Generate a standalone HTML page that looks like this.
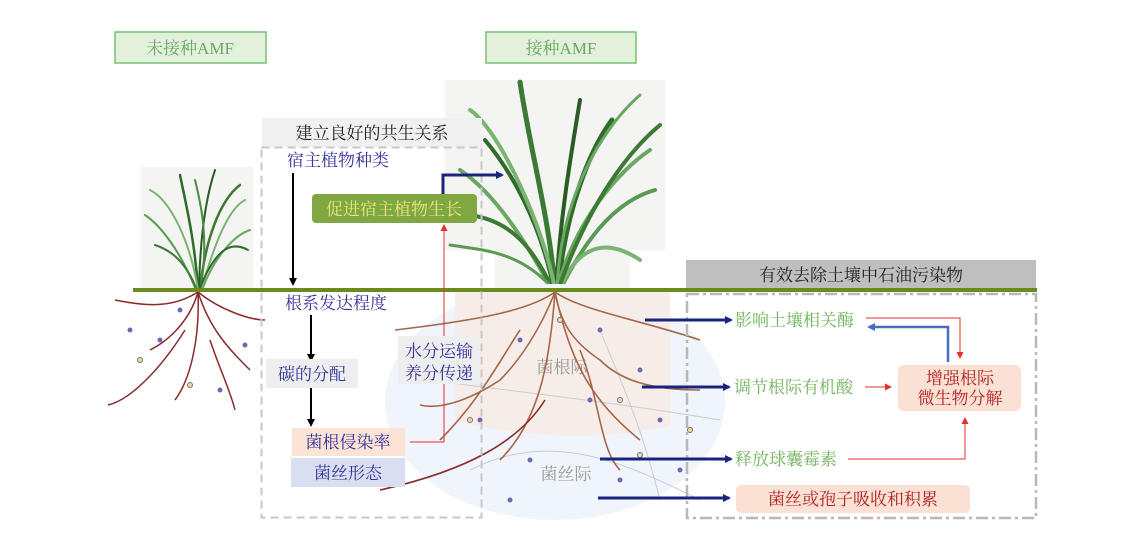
<!DOCTYPE html>
<html><head><meta charset="utf-8"><style>
body{margin:0;background:#fff;}
svg text{font-family:"Liberation Serif","Noto Serif CJK SC","Noto Sans CJK SC",serif;}
</style></head><body>
<svg width="1146" height="551" viewBox="0 0 1146 551" xmlns="http://www.w3.org/2000/svg">
<defs>
<marker id="an" markerWidth="8" markerHeight="8" refX="6" refY="4" orient="auto" markerUnits="userSpaceOnUse"><path d="M0,0 L8,4 L0,8Z" fill="#1a237e"/></marker>
<marker id="ab" markerWidth="8" markerHeight="8" refX="6" refY="4" orient="auto" markerUnits="userSpaceOnUse"><path d="M0,0 L8,4 L0,8Z" fill="#000"/></marker>
<marker id="ar" markerWidth="7" markerHeight="7" refX="5" refY="3.5" orient="auto" markerUnits="userSpaceOnUse"><path d="M0,0 L7,3.5 L0,7Z" fill="#e03030"/></marker>
<marker id="abl" markerWidth="8" markerHeight="8" refX="6" refY="4" orient="auto" markerUnits="userSpaceOnUse"><path d="M0,0 L8,4 L0,8Z" fill="#4a6cc0"/></marker>
</defs>
<rect x="115" y="32" width="151" height="31" fill="#e2f0dc" stroke="#77c06f" stroke-width="1.5"/>
<text x="190" y="54" font-size="17" fill="#6aa864" text-anchor="middle">未接种AMF</text>
<rect x="486" y="32" width="150" height="31" fill="#e2f0dc" stroke="#77c06f" stroke-width="1.5"/>
<text x="561" y="54" font-size="17" fill="#6aa864" text-anchor="middle">接种AMF</text>
<rect x="141" y="167" width="112" height="123" fill="#f4f4f2"/>
<rect x="445" y="80" width="220" height="170" fill="#f4f4f2"/>
<rect x="495" y="250" width="135" height="40" fill="#f4f4f2"/>
<g fill="none" stroke-linecap="round">
<path d="M198,290 C195,240 185,200 180,175" stroke="#2f6b2a" stroke-width="2.5"/>
<path d="M200,290 C205,240 220,200 240,185" stroke="#3c7a34" stroke-width="2.5"/>
<path d="M196,290 C180,250 160,225 145,215" stroke="#5a9a55" stroke-width="2"/>
<path d="M202,290 C215,255 235,235 250,230" stroke="#6aa862" stroke-width="2"/>
<path d="M199,290 C200,240 205,200 215,170" stroke="#2a5c25" stroke-width="2"/>
<path d="M197,290 C185,260 170,250 155,245" stroke="#3c7a34" stroke-width="2"/>
<path d="M201,290 C210,260 225,210 245,200" stroke="#7ab372" stroke-width="2"/>
<path d="M198,290 C190,240 170,200 150,190" stroke="#7ab372" stroke-width="2"/>
<path d="M200,290 C210,240 200,200 195,180" stroke="#4a8a44" stroke-width="2"/>
<path d="M199,290 C215,250 230,240 248,250" stroke="#2f6b2a" stroke-width="2"/>
</g>
<g fill="none" stroke-linecap="round">
<path d="M555,290 C550,220 530,150 520,82" stroke="#3a7a35" stroke-width="5"/>
<path d="M558,290 C565,210 590,150 612,120" stroke="#2f6b2a" stroke-width="5"/>
<path d="M552,290 C520,230 490,190 460,170" stroke="#6aa862" stroke-width="4"/>
<path d="M560,290 C590,230 620,200 655,190" stroke="#5a9a55" stroke-width="4"/>
<path d="M556,290 C560,220 570,160 580,100" stroke="#2a5c25" stroke-width="4"/>
<path d="M553,290 C530,240 505,220 470,215" stroke="#3c7a34" stroke-width="4"/>
<path d="M559,290 C580,240 610,240 640,260" stroke="#7ab372" stroke-width="4"/>
<path d="M554,290 C540,220 510,170 485,140" stroke="#2f6b2a" stroke-width="4"/>
<path d="M557,290 C575,220 620,170 650,150" stroke="#6aa862" stroke-width="4"/>
<path d="M555,290 C545,230 500,130 470,110" stroke="#7ab372" stroke-width="4"/>
<path d="M558,290 C590,200 630,150 660,125" stroke="#3c7a34" stroke-width="4"/>
<path d="M554,290 C520,250 480,250 450,245" stroke="#5a9a55" stroke-width="3"/>
<path d="M557,290 C560,200 600,130 640,95" stroke="#6aa862" stroke-width="3"/>
</g>
<ellipse cx="555" cy="402" rx="170" ry="118" fill="#f0f4fb"/>
<path d="M455,290 L670,290 L670,425 C620,440 520,440 455,420Z" fill="#f7ede8"/>
<text x="562" y="373" font-size="17" fill="#999" text-anchor="middle">菌根际</text>
<text x="566" y="480" font-size="17" fill="#999" text-anchor="middle">菌丝际</text>
<g fill="none" stroke="#c8cbd6" stroke-width="1">
<path d="M430,380 C500,390 600,400 720,420"/><path d="M470,470 C550,430 620,460 700,500"/><path d="M600,330 C620,380 640,420 660,500"/>
</g>
<g fill="none" stroke="#a5664a" stroke-width="1.6">
<path d="M555,292 C560,320 570,340 600,360 C620,380 650,390 700,390"/>
<path d="M555,292 C540,330 520,360 500,380 C470,400 440,410 420,405"/>
<path d="M555,292 C530,310 480,320 395,330"/>
<path d="M555,292 C580,310 640,320 700,340"/>
<path d="M555,292 C550,360 540,420 500,460"/>
<path d="M555,292 C570,360 590,400 640,440"/>
<path d="M520,330 C500,360 480,400 440,440"/>
<path d="M580,350 C600,400 600,450 620,470"/>
<path d="M545,400 C520,440 470,470 380,490" stroke="#8a2a2a"/>
</g>
<g fill="none" stroke="#8a2a2a" stroke-width="1.5">
<path d="M198,292 C190,320 170,340 150,350"/>
<path d="M198,292 C210,330 230,350 250,370"/>
<path d="M198,292 C170,310 140,305 115,300"/>
<path d="M198,292 C200,340 190,380 175,400"/>
<path d="M198,292 C220,310 250,320 265,320"/>
<path d="M185,330 C160,370 130,400 108,405"/>
<path d="M210,340 C220,370 230,390 235,410"/>
</g>
<g fill="#6a6ab0"><circle cx="180" cy="310" r="2.5"/><circle cx="160" cy="340" r="2.5"/><circle cx="245" cy="345" r="2.5"/><circle cx="220" cy="390" r="2.5"/><circle cx="130" cy="330" r="2.5"/><circle cx="520" cy="340" r="2.5"/><circle cx="600" cy="330" r="2.5"/><circle cx="640" cy="370" r="2.5"/><circle cx="480" cy="420" r="2.5"/><circle cx="530" cy="460" r="2.5"/><circle cx="620" cy="480" r="2.5"/><circle cx="660" cy="420" r="2.5"/><circle cx="590" cy="400" r="2.5"/><circle cx="680" cy="470" r="2.5"/><circle cx="510" cy="500" r="2.5"/><circle cx="460" cy="360" r="2.5"/></g>
<g fill="#f4e07a" stroke="#6a6ab0"><circle cx="190" cy="385" r="2.5"/><circle cx="140" cy="360" r="2.5"/><circle cx="560" cy="320" r="2.5"/><circle cx="620" cy="400" r="2.5"/><circle cx="470" cy="420" r="2.5"/><circle cx="640" cy="455" r="2.5"/><circle cx="690" cy="430" r="2.5"/></g>
<rect x="133" y="288" width="904" height="4" fill="#6b8a1e"/>
<rect x="262" y="118" width="220" height="29" fill="#f0f0f0"/>
<text x="372" y="139" font-size="17" fill="#222" text-anchor="middle">建立良好的共生关系</text>
<rect x="261.5" y="147.5" width="220" height="370" fill="none" stroke="#c8c8c8" stroke-width="2" stroke-dasharray="8,5"/>
<text x="287" y="166" font-size="17" fill="#333399">宿主植物种类</text>
<line x1="293" y1="173" x2="293" y2="284" stroke="#000" stroke-width="2" marker-end="url(#ab)"/>
<rect x="312" y="194" width="165" height="29" rx="4" fill="#7fa843"/>
<text x="394" y="215" font-size="17" fill="#ece47a" text-anchor="middle">促进宿主植物生长</text>
<polyline points="443,194 443,175 502,175" fill="none" stroke="#1a237e" stroke-width="3" marker-end="url(#an)"/>
<text x="285" y="309" font-size="17" fill="#333399">根系发达程度</text>
<line x1="311" y1="315" x2="311" y2="360" stroke="#000" stroke-width="2" marker-end="url(#ab)"/>
<rect x="266" y="359" width="92" height="29" fill="#eeeeee"/>
<text x="278" y="380" font-size="17" fill="#333399">碳的分配</text>
<line x1="311" y1="388" x2="311" y2="425" stroke="#000" stroke-width="2" marker-end="url(#ab)"/>
<rect x="292" y="428" width="113" height="28" fill="#fbe3d6"/>
<text x="348" y="448" font-size="17" fill="#333399" text-anchor="middle">菌根侵染率</text>
<rect x="291" y="458" width="114" height="29" fill="#d9dff0"/>
<text x="348" y="479" font-size="17" fill="#333399" text-anchor="middle">菌丝形态</text>
<polyline points="410,442 444,442 444,226" fill="none" stroke="#e03030" stroke-width="1" marker-end="url(#ar)"/>
<rect x="398" y="336" width="82" height="48" fill="#eeeeee"/>
<text x="439" y="357" font-size="17" fill="#333399" text-anchor="middle">水分运输</text>
<text x="439" y="379" font-size="17" fill="#333399" text-anchor="middle">养分传递</text>
<rect x="686" y="260" width="350" height="28" fill="#bfbfbf"/>
<text x="861" y="281" font-size="17" fill="#222" text-anchor="middle">有效去除土壤中石油污染物</text>
<rect x="687" y="294" width="349" height="224" fill="none" stroke="#b8b8b8" stroke-width="2.5" stroke-dasharray="12,4,3,4"/>
<line x1="645" y1="320" x2="731" y2="320" stroke="#1a237e" stroke-width="3" marker-end="url(#an)"/>
<line x1="642" y1="387" x2="729" y2="387" stroke="#1a237e" stroke-width="3" marker-end="url(#an)"/>
<line x1="600" y1="459" x2="731" y2="459" stroke="#1a237e" stroke-width="3" marker-end="url(#an)"/>
<line x1="598" y1="498" x2="729" y2="498" stroke="#1a237e" stroke-width="3" marker-end="url(#an)"/>
<text x="735" y="326" font-size="17" fill="#6fb35a">影响土壤相关酶</text>
<text x="734" y="393" font-size="17" fill="#6fb35a">调节根际有机酸</text>
<text x="735" y="465" font-size="17" fill="#6fb35a">释放球囊霉素</text>
<rect x="898" y="365" width="123" height="46" rx="6" fill="#fbe0d4"/>
<text x="960" y="384" font-size="17" fill="#b02020" text-anchor="middle">增强根际</text>
<text x="960" y="404" font-size="17" fill="#b02020" text-anchor="middle">微生物分解</text>
<rect x="736" y="485" width="234" height="28" rx="5" fill="#fbe0d4"/>
<text x="853" y="505" font-size="17" fill="#b02020" text-anchor="middle">菌丝或孢子吸收和积累</text>
<polyline points="866,318 960,318 960,357" fill="none" stroke="#e03030" stroke-width="1" marker-end="url(#ar)"/>
<polyline points="948,362 948,327 869,327" fill="none" stroke="#4a6cc0" stroke-width="2.5" marker-end="url(#abl)"/>
<line x1="865" y1="387" x2="890" y2="387" stroke="#e03030" stroke-width="1" marker-end="url(#ar)"/>
<polyline points="848,459 965,459 965,419" fill="none" stroke="#e03030" stroke-width="1" marker-end="url(#ar)"/>
</svg>
</body></html>
